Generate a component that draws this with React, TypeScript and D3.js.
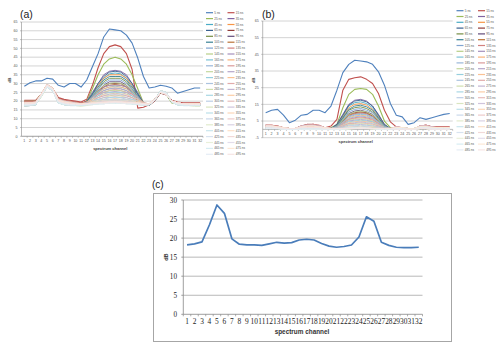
import React from 'react';
import * as d3 from 'd3';

// spectrum channels on the x axis
const channels = [1, 2, 3, 4, 5, 6, 7, 8, 9, 10, 11, 12, 13, 14, 15, 16, 17, 18, 19, 20, 21, 22, 23, 24, 25, 26, 27, 28, 29, 30, 31, 32];

const delayLabels = [
  '5 ns', '15 ns', '25 ns', '35 ns', '45 ns', '55 ns', '65 ns', '75 ns', '85 ns', '95 ns',
  '105 ns', '115 ns', '125 ns', '135 ns', '145 ns', '155 ns', '165 ns', '175 ns', '185 ns', '195 ns',
  '205 ns', '215 ns', '225 ns', '235 ns', '245 ns', '255 ns', '265 ns', '275 ns', '285 ns', '295 ns',
  '305 ns', '315 ns', '325 ns', '335 ns', '345 ns', '355 ns', '365 ns', '375 ns', '385 ns', '395 ns',
  '405 ns', '415 ns', '425 ns', '435 ns', '445 ns', '455 ns', '465 ns', '475 ns', '485 ns', '495 ns',
];

// (a) raw spectra, dB
const rawSpectra: number[][] = [
  [28.5, 30.5, 31.5, 31.5, 33, 32.5, 29, 28, 30, 30, 28, 32, 39.5, 47, 56.5, 61, 60.5, 60, 57.5, 53, 44.5, 34, 27.5, 28, 29, 28.5, 27.5, 24.5, 25.5, 26.5, 27.5, 27.5],
  [20.5, 20.5, 20.5, 24, 29, 27, 22, 21, 20.5, 20, 19.5, 21, 29, 39, 47, 51, 52, 51, 47, 38, 16, 16.5, 18, 20.5, 25, 24, 20.5, 19.5, 19, 19, 19, 19],
  [20, 20, 20, 24, 29, 27, 21, 20, 19.5, 19, 18.5, 20, 27, 35, 41, 44, 45, 44, 41, 35, 27, 19, 18, 21, 25, 24, 19, 18.5, 18, 18, 18, 18],
  [19, 19, 19, 24, 29, 27, 21, 20, 19, 19, 18.5, 20, 25, 30, 35, 37, 37.5, 37, 35, 30, 25, 19, 18, 21, 25.5, 24.5, 20, 19, 18.5, 18.5, 18.5, 18.5],
  [18, 18, 18.5, 23, 28.5, 26.5, 20, 19, 18.5, 18.5, 18, 19.5, 24, 29, 33, 35.5, 36, 35.5, 33, 29, 24, 19, 18, 20.5, 25, 24, 19.5, 18.5, 18, 18, 18, 18],
  [19.5, 19.5, 19.5, 24, 29.5, 27.5, 21, 20, 19.5, 19, 18.5, 20, 24, 29, 33, 35, 35, 35, 33, 29, 24, 19, 18, 21, 25, 24, 20, 19, 18.5, 18.5, 18.5, 18.5],
  [19, 19, 19.5, 24, 29, 27, 21, 20, 19, 19, 18.5, 20, 24, 30, 34, 36.5, 37, 36.5, 34, 30, 24, 19, 18, 21, 25.5, 24.5, 20, 19, 18.5, 18.5, 18.5, 18.5],
  [20, 20, 20, 24, 29, 27, 21.5, 20.5, 20, 19.5, 19, 19.5, 22, 26, 28, 30, 30, 30, 28, 25, 22, 18.5, 17.5, 20, 24.5, 23.5, 20, 19, 18.5, 18, 18, 18],
  [19, 19, 19, 23.5, 29, 27, 20.5, 19.5, 19, 18.5, 18, 19.5, 23, 27, 31, 33, 33, 33, 31, 27, 23, 19, 18, 20.5, 25, 24, 19.5, 18.5, 18, 18, 18, 18],
  [18.5, 18.5, 19, 23.5, 28.5, 26.5, 20, 19, 18.5, 18.5, 18, 19.5, 23, 26, 29, 31, 31, 31, 29, 26, 23, 19, 18, 20.5, 25, 24, 19.5, 18.5, 18, 18, 18, 18],
  [17.5, 17.5, 18, 23, 28.5, 26.5, 19.5, 18.5, 18, 18, 17.5, 19.5, 24, 28, 32, 34, 34, 34, 32, 28, 24, 18.5, 17.5, 20.5, 25.5, 24.5, 19.5, 18.5, 18, 18, 17.5, 17.5],
  [19, 19, 19.5, 24, 29, 27, 21, 20, 19.5, 19, 18.5, 19.5, 22, 25, 28, 29, 29.5, 29, 28, 25, 22, 19, 18, 21, 25, 24, 20, 19, 18.5, 18.5, 18.5, 18.5],
  [17, 17.5, 18, 23, 28, 26, 19, 18, 17.5, 17.5, 17.5, 19, 23, 27, 30, 32, 32, 32, 30, 27, 23, 18.5, 18, 20.5, 26, 25, 19.5, 18, 17.5, 17.5, 17.5, 17.5],
  [20, 20, 20, 24, 29, 27, 21.5, 20.5, 20, 19.5, 19, 19.5, 21, 24, 26, 27, 27, 27, 26, 24, 21, 19, 18, 21, 25, 24, 20, 19, 18.5, 18.5, 18.5, 18.5],
  [18.5, 18.5, 19, 23.5, 29, 27, 20.5, 19.5, 19, 18.5, 18, 19.5, 22, 26, 29, 30, 30.5, 30, 29, 26, 22, 19, 18, 20.5, 25, 24, 19.5, 18.5, 18, 18, 18, 18],
  [18, 18.5, 18.5, 23.5, 28.5, 26.5, 20, 19, 18.5, 18.5, 18, 19, 22, 25, 28, 29, 29, 29, 28, 25, 22, 19, 18, 20.5, 25.5, 24.5, 19.5, 18.5, 18, 18, 18, 18],
  [17.5, 18, 18, 23, 28.5, 26.5, 19.5, 18.5, 18, 18, 17.5, 19, 22, 25, 27, 28, 28.5, 28, 27, 25, 22, 18.5, 18, 20.5, 25.5, 24.5, 19.5, 18.5, 18, 18, 17.5, 17.5],
  [19, 19, 19.5, 24, 29, 27, 21, 20, 19.5, 19, 18.5, 19.5, 22, 24, 27, 28, 28, 28, 27, 24, 22, 19, 18, 21, 25, 24, 20, 19, 18.5, 18.5, 18.5, 18.5],
  [18, 18, 18.5, 23, 28.5, 26.5, 19.5, 18.5, 18, 18, 18, 19, 22, 24, 26, 27, 27.5, 27, 26, 24, 22, 18.5, 18, 20.5, 25.5, 24.5, 19.5, 18.5, 18, 18, 18, 18],
  [19.5, 19.5, 19.5, 24, 29, 27, 21, 20, 19.5, 19, 18.5, 19, 21, 24, 25, 26, 26.5, 26, 25, 24, 21, 19, 18, 21, 25, 24, 20, 19, 18.5, 18.5, 18.5, 18.5],
  [18, 18, 18.5, 23, 28, 26, 19.5, 18.5, 18, 18, 17.5, 19, 21, 23, 25, 26, 26, 26, 25, 23, 21, 18.5, 18, 20.5, 25.5, 24.5, 19.5, 18.5, 18, 18, 17.5, 17.5],
  [19, 19, 19, 23.5, 29, 27, 20.5, 19.5, 19, 18.5, 18, 19, 21, 23, 25, 25, 25.5, 25, 25, 23, 21, 19, 18, 21, 25, 24, 20, 19, 18.5, 18.5, 18.5, 18.5],
  [17.5, 17.5, 18, 23, 28, 26, 19, 18, 17.5, 17.5, 17.5, 19, 21, 23, 24, 25, 25, 25, 24, 23, 21, 18.5, 18, 20.5, 26, 25, 19.5, 18, 17.5, 17.5, 17.5, 17.5],
  [19, 19, 19.5, 24, 29.5, 27.5, 21, 20, 19.5, 19, 18.5, 19, 21, 22, 24, 24, 24.5, 24, 24, 22, 21, 19, 18.5, 21, 25, 24, 20, 19, 18.5, 18.5, 18.5, 18.5],
  [18, 18, 18.5, 23, 28.5, 26.5, 19.5, 18.5, 18, 18, 18, 19, 20, 22, 23, 24, 24, 24, 23, 22, 20, 18.5, 18, 20.5, 25.5, 24.5, 19.5, 18.5, 18, 18, 18, 18],
  [18.5, 18.5, 19, 23.5, 29, 27, 20, 19, 18.5, 18.5, 18, 19, 20, 22, 23, 23, 23.5, 23, 23, 22, 20, 19, 18, 21, 25, 24, 20, 19, 18.5, 18, 18, 18],
  [17.5, 17.5, 18, 22.5, 28, 26, 19, 18, 17.5, 17.5, 17.5, 18.5, 20, 21, 22, 23, 23, 23, 22, 21, 20, 18.5, 18, 20.5, 26, 25, 19.5, 18, 17.5, 17.5, 17.5, 17.5],
  [19, 19, 19, 24, 29, 27, 20.5, 19.5, 19, 18.5, 18.5, 19, 20, 21, 22, 22, 22.5, 22, 22, 21, 20, 19, 18.5, 21, 25, 24, 20, 19, 18.5, 18.5, 18.5, 18.5],
  [18, 18, 18.5, 23, 28.5, 26.5, 19.5, 18.5, 18, 18, 18, 18.5, 20, 21, 21, 22, 22, 22, 21, 21, 20, 18.5, 18, 20.5, 25.5, 24.5, 19.5, 18.5, 18, 18, 18, 18],
  [18.5, 18.5, 19, 23.5, 29, 27, 20, 19, 18.5, 18.5, 18, 18.5, 20, 20, 21, 21, 21.5, 21, 21, 20, 20, 19, 18, 21, 25, 24, 20, 19, 18.5, 18.5, 18, 18],
  [17.5, 18, 18, 23, 28, 26, 19, 18, 18, 17.5, 17.5, 18.5, 19, 20, 21, 21, 21, 21, 21, 20, 19, 18.5, 18, 20.5, 25.5, 24.5, 19.5, 18, 17.5, 17.5, 17.5, 17.5],
  [19, 19, 19, 24, 29, 27, 20.5, 19.5, 19, 18.5, 18.5, 18.5, 19, 20, 20, 20, 20.5, 20, 20, 20, 19, 19, 18.5, 21, 25, 24, 20, 19, 18.5, 18.5, 18.5, 18.5],
  [18, 18, 18.5, 23, 28.5, 26.5, 19.5, 18.5, 18, 18, 18, 18.5, 19, 20, 20, 20.5, 20.5, 20.5, 20, 20, 19, 18.5, 18, 20.5, 25.5, 24.5, 19.5, 18.5, 18, 18, 18, 18],
  [18.5, 18.5, 19, 23.5, 29, 27, 20, 19, 18.5, 18.5, 18, 18.5, 19, 19, 20, 20, 20, 20, 20, 19, 19, 18.5, 18, 21, 25, 24, 20, 19, 18.5, 18, 18, 18],
  [17.5, 17.5, 18, 23, 28, 26, 19, 18, 17.5, 17.5, 17.5, 18, 18.5, 19, 19, 19.5, 19.5, 19.5, 19, 19, 18.5, 18, 18, 20.5, 26, 25, 19.5, 18, 17.5, 17.5, 17.5, 17.5],
  [19, 19, 19, 24, 29, 27, 20.5, 19.5, 19, 18.5, 18.5, 18.5, 19, 19, 19.5, 19.5, 20, 19.5, 19.5, 19, 19, 18.5, 18.5, 21, 25, 24, 20, 19, 18.5, 18.5, 18.5, 18.5],
  [18, 18, 18.5, 23, 28.5, 26.5, 19.5, 18.5, 18, 18, 18, 18, 18.5, 18.5, 19, 19, 19.5, 19, 19, 18.5, 18.5, 18, 18, 20.5, 25.5, 24.5, 19.5, 18.5, 18, 18, 18, 18],
  [18.5, 18.5, 19, 23.5, 29, 27, 20, 19, 18.5, 18.5, 18, 18.5, 18.5, 19, 19, 19.5, 19.5, 19.5, 19, 19, 18.5, 18, 18, 21, 25, 24, 20, 19, 18.5, 18, 18, 18],
  [17, 17.5, 18, 22.5, 28, 26, 19, 18, 17.5, 17.5, 17, 17.5, 18, 18.5, 18.5, 19, 19, 19, 18.5, 18.5, 18, 17.5, 18, 20.5, 26, 25, 19.5, 18, 17.5, 17.5, 17, 17],
  [19, 19, 19.5, 24, 29.5, 27.5, 21, 20, 19.5, 19, 18.5, 18.5, 19, 19.5, 19.5, 20, 20, 20, 19.5, 19.5, 19, 18.5, 18.5, 21, 25, 24, 20, 19, 18.5, 18.5, 18.5, 18.5],
  [18, 18, 18.5, 23, 28, 26, 19.5, 18.5, 18, 18, 17.5, 18, 18.5, 18.5, 19, 19, 19, 19, 19, 18.5, 18.5, 18, 18, 20.5, 25.5, 24.5, 19.5, 18.5, 18, 18, 17.5, 17.5],
  [18.5, 19, 19, 23.5, 29, 27, 20.5, 19.5, 19, 18.5, 18, 18.5, 19, 19, 19.5, 19.5, 19.5, 19.5, 19.5, 19, 19, 18.5, 18, 21, 25, 24, 20, 19, 18.5, 18.5, 18.5, 18.5],
  [17.5, 17.5, 18, 23, 28, 26, 19, 18, 17.5, 17.5, 17.5, 18, 18, 18.5, 18.5, 19, 19, 19, 18.5, 18.5, 18, 17.5, 18, 20.5, 26, 25, 19.5, 18, 17.5, 17.5, 17.5, 17.5],
  [19, 19, 19, 24, 29, 27, 20.5, 19.5, 19, 18.5, 18.5, 18.5, 19, 19, 19.5, 19.5, 19.5, 19.5, 19, 19, 19, 18.5, 18.5, 21, 25, 24, 20, 19, 18.5, 18.5, 18.5, 18.5],
  [18, 18, 18.5, 23, 28.5, 26.5, 19.5, 18.5, 18, 18, 18, 18, 18.5, 18.5, 19, 19, 19, 19, 19, 18.5, 18.5, 18, 18, 20.5, 25.5, 24.5, 19.5, 18.5, 18, 18, 18, 18],
  [18.5, 18.5, 19, 23.5, 29, 27, 20, 19, 18.5, 18.5, 18, 18.5, 18.5, 19, 19, 19.5, 19.5, 19.5, 19, 19, 18.5, 18.5, 18, 21, 25, 24, 20, 19, 18.5, 18, 18, 18],
  [17.5, 18, 18, 23, 28, 26, 19, 18, 18, 17.5, 17.5, 18, 18, 18.5, 18.5, 19, 19, 19, 18.5, 18.5, 18, 18, 18, 20.5, 25.5, 24.5, 19.5, 18, 17.5, 17.5, 17.5, 17.5],
  [19, 19, 19, 24, 29, 27, 20.5, 19.5, 19, 18.5, 18.5, 18.5, 19, 19, 19, 19.5, 19.5, 19.5, 19, 19, 19, 18.5, 18.5, 21, 25, 24, 20, 19, 18.5, 18.5, 18.5, 18.5],
  [18, 18, 18.5, 23, 28.5, 26.5, 19.5, 18.5, 18, 18, 18, 18, 18.5, 18.5, 18.5, 19, 19, 19, 18.5, 18.5, 18.5, 18, 18, 20.5, 25.5, 24.5, 19.5, 18.5, 18, 18, 18, 18],
  [18.5, 18.5, 19, 23.5, 29, 27, 20, 19, 18.5, 18.5, 18, 18.5, 18.5, 19, 19, 19, 19.5, 19, 19, 19, 18.5, 18.5, 18, 21, 25, 24, 20, 19, 18.5, 18, 18, 18],
];

// (b) background-removed spectra, dB
const cleanSpectra: number[][] = [
  [10, 11.5, 12, 8.5, 4, 5.5, 8.5, 9, 11.5, 11.5, 10, 14, 23.5, 34, 39, 41.5, 41, 40.5, 39, 34.5, 26.5, 15.5, 8.5, 7.5, 3, 4, 7, 6, 7, 8, 9, 9.5],
  [2.5, 2.5, 2, 1, 0.5, 0.5, 2, 2.5, 3, 2, 1, 2, 6, 23.5, 30, 31, 31.5, 30, 27.5, 21.5, 11.5, 4.5, 1.5, 1, 0, 0, 2, 2.5, 1.5, 1.5, 1.5, 1.5],
  [1.5, 1.5, 1.5, 1, 0.5, 0.5, 1, 1.5, 1.5, 1, 1, 1, 3, 13, 21, 24, 24.5, 24, 21, 14, 5, 1, 0.5, 0.5, 0, 0, 1, 1, 0.5, 0.5, 0.5, 0.5],
  [1.5, 1.5, 1, 0.5, 0.5, 0.5, 1, 1, 1, 1, 0.5, 0.5, 3, 9, 15, 17.5, 18, 17, 14, 9, 3, 0.5, 0.5, 0.5, 0, 0, 1, 1, 0.5, 0.5, 0.5, 0.5],
  [2, 2, 1.5, 1, 0.5, 0.5, 1.5, 2, 2, 1.5, 1, 0.5, 2.5, 8, 14, 16, 16.5, 15.5, 13, 8, 2.5, 0.5, 1, 1, 0.5, 0.5, 1.5, 1.5, 1, 1, 1, 1],
  [1, 1, 1, 0.5, 0, 0, 0.5, 0.5, 0.5, 0.5, 0.5, 0.5, 2.5, 7.5, 13, 15, 15.5, 14.5, 12, 7.5, 2.5, 0.5, 0, 0, 0, 0, 0.5, 0.5, 0, 0, 0, 0],
  [0.5, 0.5, 0.5, 0, 0, 0, 0, 0, 0, 0, 0, 0.5, 3, 8.5, 14.5, 17, 17.5, 16.5, 14, 8.5, 3, 0.5, 0.5, 0.5, 0, 0, 1, 1, 0.5, 0.5, 0.5, 0.5],
  [2.5, 2, 1.5, 1, 0.5, 0.5, 2, 3, 3, 2, 1, 0.5, 1.5, 5, 9, 10, 10.5, 10, 8, 5, 1.5, 0, 1, 1, 0.5, 0, 2, 2.5, 1.5, 1, 1, 1],
  [1.5, 1.5, 1, 0.5, 0.5, 0.5, 1, 1, 1, 1, 0.5, 0.5, 2, 6.5, 11.5, 13, 13.5, 12.5, 10.5, 6.5, 2, 0.5, 0, 0, 0, 0, 0.5, 0.5, 0, 0, 0, 0],
  [1, 1, 1, 0.5, 0, 0, 0.5, 0.5, 0.5, 0.5, 0.5, 0.5, 1.5, 5.5, 9.5, 11, 11.5, 10.5, 9, 5.5, 1.5, 0.5, 0.5, 0.5, 0, 0, 1, 1, 0.5, 0.5, 0.5, 0.5],
  [0.5, 0.5, 0.5, 0, 0, 0, 0, 0, 0, 0, 0, 0.5, 2, 7, 12, 14, 14.5, 13.5, 11.5, 7, 2, 0.5, 1, 1, 0.5, 0.5, 1.5, 1.5, 1, 1, 1, 1],
  [2, 2, 1.5, 1, 0.5, 0.5, 1.5, 2, 2, 1.5, 1, 0.5, 1.5, 5, 8.5, 9.5, 10, 9.5, 8, 5, 1.5, 0.5, 0.5, 0.5, 0, 0, 1, 1, 0.5, 0.5, 0.5, 0.5],
  [1, 1, 1, 0.5, 0, 0, 0.5, 0.5, 0.5, 0.5, 0.5, 0.5, 2, 6, 10.5, 12, 12.5, 11.5, 10, 6, 2, 0.5, 0, 0, 0, 0, 0.5, 0.5, 0, 0, 0, 0],
  [2.5, 2.5, 2, 1, 0.5, 0.5, 2, 3, 3, 2.5, 1, 0.5, 1, 3.5, 6, 7, 7.5, 7, 6, 3.5, 1, 0.5, 1.5, 1, 0.5, 0, 2, 2.5, 1.5, 1, 1, 1],
  [1.5, 1.5, 1, 0.5, 0.5, 0.5, 1, 1, 1, 1, 0.5, 0.5, 1.5, 5.5, 9, 10.5, 11, 10.5, 8.5, 5.5, 1.5, 0.5, 1, 1, 0.5, 0.5, 1.5, 1.5, 1, 1, 1, 1],
  [0.5, 0.5, 0.5, 0, 0, 0, 0, 0, 0, 0, 0, 0.5, 1.5, 4.5, 8, 9, 9.5, 9, 7.5, 4.5, 1.5, 0.5, 0.5, 0.5, 0, 0, 1, 1, 0.5, 0.5, 0.5, 0.5],
  [1, 1, 1, 0.5, 0, 0, 0.5, 0.5, 0.5, 0.5, 0.5, 0.5, 1.5, 4.5, 7.5, 8.5, 9, 8.5, 7, 4.5, 1.5, 0.5, 0, 0, 0, 0, 0.5, 0.5, 0, 0, 0, 0],
  [2, 2, 1.5, 1, 0.5, 0.5, 1.5, 2, 2, 1.5, 1, 0.5, 1, 4, 7, 8, 8.5, 8, 6.5, 4, 1, 0.5, 1, 1, 0.5, 0.5, 1.5, 1.5, 1, 1, 1, 1],
  [1.5, 1.5, 1, 0.5, 0.5, 0.5, 1, 1, 1, 1, 0.5, 0.5, 1, 4, 6.5, 7.5, 8, 7.5, 6.5, 4, 1, 0.5, 0.5, 0.5, 0, 0, 1, 1, 0.5, 0.5, 0.5, 0.5],
  [2.5, 2.5, 2, 1, 0.5, 0.5, 2, 2.5, 3, 2.5, 1, 0.5, 1, 3.5, 6, 6.5, 7, 6.5, 5.5, 3.5, 1, 0.5, 1.5, 1, 0.5, 0, 2, 2.5, 1.5, 1, 1, 1],
  [0.5, 0.5, 0.5, 0, 0, 0, 0, 0, 0, 0, 0, 0.5, 1, 3, 5.5, 6, 6.5, 6, 5, 3, 1, 0.5, 0, 0, 0, 0, 0.5, 0.5, 0, 0, 0, 0],
  [1, 1, 1, 0.5, 0, 0, 0.5, 0.5, 0.5, 0.5, 0.5, 0.5, 1, 3, 5, 5.5, 6, 5.5, 4.5, 3, 1, 0.5, 0.5, 0.5, 0, 0, 1, 1, 0.5, 0.5, 0.5, 0.5],
  [1.5, 1.5, 1, 0.5, 0.5, 0.5, 1, 1, 1, 1, 0.5, 0.5, 1, 2.5, 4.5, 5, 5.5, 5, 4.5, 2.5, 1, 0.5, 1, 1, 0.5, 0.5, 1.5, 1.5, 1, 1, 1, 1],
  [2, 2, 1.5, 1, 0.5, 0.5, 1.5, 2, 2, 1.5, 1, 0.5, 1, 2.5, 4, 4.5, 5, 4.5, 4, 2.5, 1, 0.5, 0.5, 0.5, 0, 0, 1, 1, 0.5, 0.5, 0.5, 0.5],
  [1, 1, 1, 0.5, 0, 0, 0.5, 0.5, 0.5, 0.5, 0.5, 0.5, 1, 2, 3.5, 4, 4.5, 4, 3.5, 2, 1, 0.5, 0, 0, 0, 0, 0.5, 0.5, 0, 0, 0, 0],
  [1.5, 1.5, 1, 0.5, 0.5, 0.5, 1, 1, 1, 1, 0.5, 0.5, 0.5, 2, 3.5, 3.5, 4, 3.5, 3, 2, 0.5, 0.5, 1.5, 1, 0.5, 0, 2, 2.5, 1.5, 1, 1, 1],
  [0.5, 0.5, 0.5, 0, 0, 0, 0, 0, 0, 0, 0, 0.5, 0.5, 1.5, 3, 3, 3.5, 3, 2.5, 1.5, 0.5, 0.5, 0.5, 0.5, 0, 0, 1, 1, 0.5, 0.5, 0.5, 0.5],
  [2, 2, 1.5, 1, 0.5, 0.5, 1.5, 2, 2, 1.5, 1, 0.5, 0.5, 1.5, 2.5, 2.5, 3, 2.5, 2, 1.5, 0.5, 0.5, 1, 1, 0.5, 0.5, 1.5, 1.5, 1, 1, 1, 1],
  [1, 1, 1, 0.5, 0, 0, 0.5, 0.5, 0.5, 0.5, 0.5, 0.5, 0.5, 1, 2, 2, 2.5, 2, 2, 1, 0.5, 0.5, 0.5, 0.5, 0, 0, 1, 1, 0.5, 0.5, 0.5, 0.5],
  [1.5, 1.5, 1, 0.5, 0.5, 0.5, 1, 1, 1, 1, 0.5, 0.5, 0.5, 1, 1.5, 1.5, 2, 1.5, 1.5, 1, 0.5, 0.5, 0, 0, 0, 0, 0.5, 0.5, 0, 0, 0, 0],
  [1, 1, 1, 0.5, 0, 0, 0.5, 0.5, 0.5, 0.5, 0.5, 0.5, 0.5, 1, 1, 1.5, 1.5, 1.5, 1, 1, 0.5, 0.5, 0.5, 0.5, 0, 0, 1, 1, 0.5, 0.5, 0.5, 0.5],
  [2, 2, 1.5, 1, 0.5, 0.5, 1.5, 2, 2, 1.5, 1, 0.5, 0.5, 0.5, 1, 1, 1, 1, 1, 0.5, 0.5, 0.5, 1, 1, 0.5, 0.5, 1.5, 1.5, 1, 1, 1, 1],
  [0.5, 0.5, 0.5, 0, 0, 0, 0, 0, 0, 0, 0, 0.5, 0.5, 0.5, 1, 1, 1, 1, 1, 0.5, 0.5, 0.5, 0, 0, 0, 0, 0.5, 0.5, 0, 0, 0, 0],
  [1.5, 1.5, 1, 0.5, 0.5, 0.5, 1, 1, 1, 1, 0.5, 0.5, 0.5, 0.5, 0.5, 1, 1, 1, 0.5, 0.5, 0.5, 0.5, 0.5, 0.5, 0, 0, 1, 1, 0.5, 0.5, 0.5, 0.5],
  [1, 1, 1, 0.5, 0, 0, 0.5, 0.5, 0.5, 0.5, 0.5, 0, 0.5, 0.5, 0.5, 0.5, 1, 0.5, 0.5, 0.5, 0.5, 0, 1, 1, 0.5, 0.5, 1.5, 1.5, 1, 1, 1, 1],
  [2, 2, 1.5, 1, 0.5, 0.5, 1.5, 2, 2, 1.5, 1, 0.5, 0.5, 0.5, 1, 1, 1, 1, 0.5, 0.5, 0.5, 0.5, 0, 0, 0, 0, 0.5, 0.5, 0, 0, 0, 0],
  [0.5, 0.5, 0.5, 0, 0, 0, 0, 0, 0, 0, 0, 0, 0, 0.5, 0.5, 0.5, 0.5, 0.5, 0.5, 0.5, 0, 0, 0.5, 0.5, 0, 0, 1, 1, 0.5, 0.5, 0.5, 0.5],
  [1.5, 1.5, 1, 0.5, 0.5, 0.5, 1, 1, 1, 1, 0.5, 0.5, 0.5, 0.5, 0.5, 0.5, 1, 0.5, 0.5, 0.5, 0.5, 0.5, 1, 1, 0.5, 0.5, 1.5, 1.5, 1, 1, 1, 1],
  [1, 1, 1, 0.5, 0, 0, 0.5, 0.5, 0.5, 0.5, 0.5, 0.5, 0.5, 0.5, 0.5, 0.5, 0.5, 0.5, 0.5, 0.5, 0.5, 0.5, 0, 0, 0, 0, 0.5, 0.5, 0, 0, 0, 0],
  [2.5, 2, 1.5, 1, 0.5, 0.5, 2, 2.5, 2.5, 2, 1, 0.5, 0.5, 0.5, 1, 1, 1, 1, 0.5, 0.5, 0.5, 0.5, 1.5, 1, 0.5, 0, 2, 2, 1.5, 1, 1, 1],
  [0.5, 0.5, 0.5, 0, 0, 0, 0, 0, 0, 0, 0, 0, 0, 0, 0.5, 0.5, 0.5, 0.5, 0.5, 0, 0, 0, 0.5, 0.5, 0, 0, 1, 1, 0.5, 0.5, 0.5, 0.5],
  [1.5, 1.5, 1, 0.5, 0.5, 0.5, 1, 1, 1, 1, 0.5, 0.5, 0.5, 0.5, 0.5, 1, 1, 1, 0.5, 0.5, 0.5, 0.5, 1, 1, 0.5, 0.5, 1.5, 1.5, 1, 1, 1, 1],
  [1, 1, 1, 0.5, 0, 0, 0.5, 0.5, 0.5, 0.5, 0.5, 0.5, 0.5, 0.5, 0.5, 0.5, 0.5, 0.5, 0.5, 0.5, 0.5, 0.5, 0.5, 0.5, 0, 0, 1, 1, 0.5, 0.5, 0.5, 0.5],
  [2, 2, 1.5, 1, 0.5, 0.5, 1.5, 2, 2, 1.5, 1, 0.5, 0.5, 0.5, 0.5, 0.5, 1, 0.5, 0.5, 0.5, 0.5, 0.5, 0, 0, 0, 0, 0.5, 0.5, 0, 0, 0, 0],
  [0.5, 0.5, 0.5, 0, 0, 0, 0, 0, 0, 0, 0, 0, 0, 0, 0, 0.5, 0.5, 0.5, 0, 0, 0, 0, 1, 1, 0.5, 0.5, 1.5, 1.5, 1, 1, 1, 1],
  [1.5, 1.5, 1, 0.5, 0.5, 0.5, 1, 1, 1, 1, 0.5, 0.5, 0.5, 0.5, 0.5, 0.5, 0.5, 0.5, 0.5, 0.5, 0.5, 0.5, 0.5, 0.5, 0, 0, 1, 1, 0.5, 0.5, 0.5, 0.5],
  [1, 1, 1, 0.5, 0, 0, 0.5, 0.5, 0.5, 0.5, 0.5, 0.5, 0.5, 0.5, 1, 1, 1, 1, 0.5, 0.5, 0.5, 0.5, 0, 0, 0, 0, 0.5, 0.5, 0, 0, 0, 0],
  [2, 2, 1.5, 1, 0.5, 0.5, 1.5, 2, 2, 1.5, 1, 0.5, 0.5, 0.5, 0.5, 0.5, 1, 0.5, 0.5, 0.5, 0.5, 0.5, 1, 1, 0.5, 0.5, 1.5, 1.5, 1, 1, 1, 1],
  [0.5, 0.5, 0.5, 0, 0, 0, 0, 0, 0, 0, 0, 0, 0, 0, 0.5, 0.5, 0.5, 0.5, 0.5, 0, 0, 0, 0.5, 0.5, 0, 0, 1, 1, 0.5, 0.5, 0.5, 0.5],
  [1.5, 1.5, 1, 0.5, 0.5, 0.5, 1, 1, 1, 1, 0.5, 0.5, 0.5, 0.5, 0.5, 0.5, 0.5, 0.5, 0.5, 0.5, 0.5, 0.5, 0, 0, 0, 0, 0.5, 0.5, 0, 0, 0, 0],
];

// (c) background spectrum, dB
const background = [18.2, 18.5, 19, 23.5, 28.7, 26.5, 19.8, 18.4, 18.2, 18.2, 18.1, 18.5, 18.9, 18.7, 18.8, 19.5, 19.7, 19.5, 18.6, 17.9, 17.6, 17.8, 18.2, 20.3, 25.6, 24.4, 18.9, 18.1, 17.6, 17.5, 17.5, 17.6];

const ticksA = [0, 5, 10, 15, 20, 25, 30, 35, 40, 45, 50, 55, 60, 65];
const ticksB = [-5, 5, 15, 25, 35, 45, 55, 65];
const ticksC = [0, 5, 10, 15, 20, 25, 30];

const accents = ['#4F81BD', '#C0504D', '#9BBB59', '#8064A2', '#4BACC6', '#F79646'];
const tintSteps = [0, -1, 0.28, 0.42, 0.52, 0.62, 0.7, 0.78, 0.85];

function seriesColor(i: number) {
  const base = accents[i % 6];
  const step = tintSteps[Math.floor(i / 6)];
  if (step < 0) return d3.rgb(base).darker(0.8).formatHex();
  return d3.interpolateRgb(base, '#ffffff')(step);
}

const SANS = 'Liberation Sans, Arial, sans-serif';
const SERIF = 'Liberation Serif, Times New Roman, serif';

type PanelProps = {
  data: number[][];
  left: number; right: number; top: number; bottom: number;
  domain: [number, number];
  ticks: number[];
  axisAt: number;
  tag: string;
  tagX: number;
  dbX: number;
  legendX: number;
  legendY: number;
  legendStep: number;
  titleDy: number;
};

function Panel(p: PanelProps) {
  const x = d3.scaleBand<number>().domain(channels).range([p.left, p.right]);
  const y = d3.scaleLinear().domain(p.domain).range([p.bottom, p.top]);
  const cx = (c: number) => (x(c) ?? 0) + x.bandwidth() / 2;
  const line = d3.line<number>().x((_, i) => cx(channels[i])).y(v => y(v));
  const axisY = y(p.axisAt);
  const mid = (p.left + p.right) / 2;

  return (
    <g>
      <text x={p.tagX} y={18} fontFamily={SANS} fontSize={10.5} fill="#222">{p.tag}</text>
      {p.ticks.map(t => (
        <line key={'g' + t} x1={p.left} x2={p.right} y1={y(t)} y2={y(t)} stroke="#cfcfcf" strokeWidth={0.9} />
      ))}
      <line x1={p.left} x2={p.left} y1={p.top} y2={p.bottom} stroke="#8a8a8a" strokeWidth={0.6} />
      {p.ticks.map(t => (
        <g key={'t' + t}>
          <line x1={p.left - 1.5} x2={p.left} y1={y(t)} y2={y(t)} stroke="#8a8a8a" strokeWidth={0.5} />
          <text x={p.left - 4} y={y(t)} dy="0.35em" textAnchor="end" fontFamily={SANS} fontSize={3.6} fill="#555">{t}</text>
        </g>
      ))}
      <line x1={p.left} x2={p.right} y1={axisY} y2={axisY} stroke="#8a8a8a" strokeWidth={0.6} />
      {channels.map(c => (
        <g key={'x' + c}>
          <line x1={x(c)! + x.bandwidth()} x2={x(c)! + x.bandwidth()} y1={axisY} y2={axisY + 1.5} stroke="#8a8a8a" strokeWidth={0.5} />
          <text x={cx(c)} y={axisY + 5.6} textAnchor="middle" fontFamily={SANS} fontSize={3.6} fill="#555">{c}</text>
        </g>
      ))}
      <text x={mid - 2} y={axisY + p.titleDy} textAnchor="middle" fontFamily={SANS} fontWeight="bold" fontSize={4} fill="#444">spectrum channel</text>
      <text transform={`translate(${p.dbX},${(p.top + p.bottom) / 2 + 1}) rotate(-90)`} textAnchor="middle" fontFamily={SANS} fontWeight="bold" fontSize={4} fill="#444">dB</text>
      {p.data.map((s, i) => (
        <path key={'s' + i} d={line(s) ?? ''} fill="none" stroke={seriesColor(i)} strokeWidth={i < 3 ? 1.1 : 0.9} strokeLinejoin="round" />
      ))}
      {delayLabels.map((lab, i) => {
        const lx = p.legendX + (i % 2) * 21.5;
        const ly = p.legendY + Math.floor(i / 2) * p.legendStep;
        return (
          <g key={'l' + i}>
            <line x1={lx} x2={lx + 7} y1={ly} y2={ly} stroke={seriesColor(i)} strokeWidth={1.2} />
            <text x={lx + 8.3} y={ly} dy="0.35em" fontFamily={SANS} fontSize={3.1} fill="#555">{lab}</text>
          </g>
        );
      })}
    </g>
  );
}

function BackgroundPanel() {
  const left = 183.3, right = 422.5, top = 200, bottom = 314.3;
  const x = d3.scaleBand<number>().domain(channels).range([left, right]);
  const y = d3.scaleLinear().domain([0, 30]).range([bottom, top]);
  const cx = (c: number) => (x(c) ?? 0) + x.bandwidth() / 2;
  const line = d3.line<number>().x((_, i) => cx(channels[i])).y(v => y(v));

  return (
    <g>
      <text x={152} y={188} fontFamily={SANS} fontSize={10} fill="#222">(c)</text>
      <rect x={153.5} y={193.5} width={298} height={148} fill="none" stroke="#a6a6a6" strokeWidth={1} />
      {ticksC.map(t => (
        <g key={'c' + t}>
          {t > 0 && <line x1={left} x2={right} y1={y(t)} y2={y(t)} stroke="#b8b8b8" strokeWidth={1} />}
          <line x1={left - 2} x2={left} y1={y(t)} y2={y(t)} stroke="#888" strokeWidth={0.8} />
          <text x={177} y={y(t)} dy="0.35em" textAnchor="end" fontFamily={SERIF} fontSize={7.2} fill="#222">{t}</text>
        </g>
      ))}
      <line x1={left} x2={left} y1={top} y2={bottom} stroke="#888" strokeWidth={0.8} />
      <line x1={left} x2={right} y1={bottom} y2={bottom} stroke="#888" strokeWidth={0.8} />
      {channels.map(c => (
        <g key={'cx' + c}>
          <line x1={x(c)!} x2={x(c)!} y1={bottom} y2={bottom + 2} stroke="#888" strokeWidth={0.7} />
          <text x={cx(c)} y={323.8} textAnchor="middle" fontFamily={SERIF} fontSize={7.4} fill="#222">{c}</text>
        </g>
      ))}
      <line x1={right} x2={right} y1={bottom} y2={bottom + 2} stroke="#888" strokeWidth={0.7} />
      <text x={302} y={334} textAnchor="middle" fontFamily={SANS} fontWeight="bold" fontSize={6.4} fill="#333">spectrum channel</text>
      <text transform={`translate(167.5,${y(15)}) rotate(-90)`} textAnchor="middle" fontFamily={SANS} fontWeight="bold" fontSize={5.5} fill="#333">dB</text>
      <path d={line(background) ?? ''} fill="none" stroke="#4A7DBA" strokeWidth={1.7} strokeLinejoin="round" />
    </g>
  );
}

export default function App() {
  return (
    <svg width={500} height={347} style={{ position: 'absolute', left: 0, top: 0, background: '#fff' }}>
      <Panel data={rawSpectra} left={21.5} right={203} top={22} bottom={136.3} domain={[0, 65]} ticks={ticksA}
        axisAt={0} tag="(a)" tagX={20} dbX={11} legendX={206} legendY={12.7} legendStep={5.9} titleDy={13.5} />
      <Panel data={cleanSpectra} left={262.7} right={452.7} top={21} bottom={137.7} domain={[-5, 65]} ticks={ticksB}
        axisAt={0} tag="(b)" tagX={262} dbX={255} legendX={456.5} legendY={10.7} legendStep={5.8} titleDy={13.3} />
      <BackgroundPanel />
    </svg>
  );
}
